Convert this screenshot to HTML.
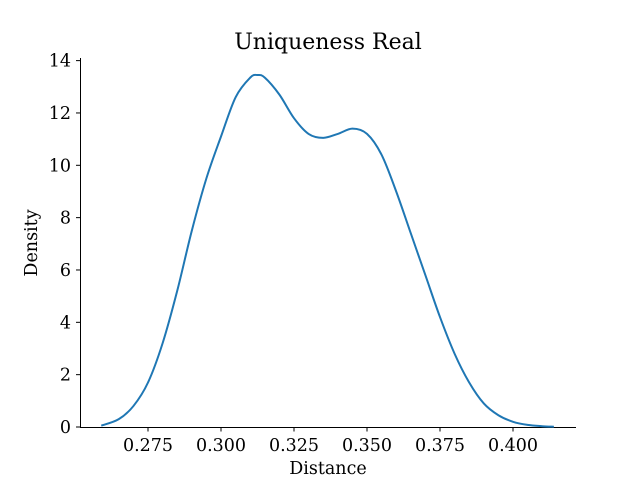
<!DOCTYPE html>
<html><head><meta charset="utf-8"><style>
body{margin:0;background:#fff}
svg text{font-family:"DejaVu Serif","Liberation Serif",serif;fill:#000}
</style></head><body>
<svg width="640" height="480" id="c">
<text x="328" y="49" text-anchor="middle" font-size="22">Uniqueness Real</text>
<text x="328" y="474" text-anchor="middle" font-size="17.5">Distance</text>
<text transform="translate(37,243) rotate(-90)" text-anchor="middle" font-size="17.5">Density</text>
<line x1="80" y1="427.5" x2="576" y2="427.5" stroke="#000" stroke-width="1"/>
<line x1="80.5" y1="58" x2="80.5" y2="427.5" stroke="#000" stroke-width="1"/>
<g id="ticks"></g>
<path id="kde" fill="none" stroke="#1f77b4" stroke-width="2"/>
</svg>
<script>
const xTicks=[0.275,0.300,0.325,0.350,0.375,0.400];
const xTickLabels=["0.275","0.300","0.325","0.350","0.375","0.400"];
const yTicks=[0,2,4,6,8,10,12,14];
const xs=[0.259,0.265,0.270,0.275,0.280,0.285,0.290,0.295,0.300,0.305,0.310,0.3125,0.315,0.320,0.325,0.330,0.335,0.340,0.345,0.350,0.355,0.360,0.365,0.370,0.375,0.380,0.385,0.390,0.395,0.400,0.405,0.410,0.414];
const ys=[0.05,0.3,0.8,1.7,3.2,5.2,7.5,9.5,11.1,12.6,13.35,13.45,13.35,12.7,11.8,11.2,11.05,11.2,11.4,11.2,10.4,9.0,7.4,5.8,4.2,2.8,1.7,0.9,0.45,0.2,0.08,0.03,0.01];
const X=v=>148+(v-0.275)*2920;
const Y=v=>427-v*26.17;
const NS="http://www.w3.org/2000/svg";
const g=document.getElementById('ticks');
xTicks.forEach((t,i)=>{
 const l=document.createElementNS(NS,'line');
 
 
 l.setAttribute('x1',X(t));l.setAttribute('x2',X(t));l.setAttribute('y1',427.5);l.setAttribute('y2',431.5);l.setAttribute('stroke','#000');
 g.appendChild(l);
 const tx=document.createElementNS(NS,'text');
 
 
 tx.setAttribute('x',X(t));tx.setAttribute('y',451);tx.setAttribute('text-anchor','middle');tx.setAttribute('font-size','17.5');
 tx.textContent=xTickLabels[i];g.appendChild(tx);
});
yTicks.forEach(t=>{
 const l=document.createElementNS(NS,'line');
 
 
 l.setAttribute('x1',76);l.setAttribute('x2',80.5);l.setAttribute('y1',Y(t));l.setAttribute('y2',Y(t));l.setAttribute('stroke','#000');
 g.appendChild(l);
 const tx=document.createElementNS(NS,'text');
 
 
 tx.setAttribute('x',71);tx.setAttribute('y',Y(t)+6);tx.setAttribute('text-anchor','end');tx.setAttribute('font-size','17.5');
 tx.textContent=String(t);g.appendChild(tx);
});
const P=xs.map((x,i)=>[X(x),Y(ys[i])]);
let d='M'+P[0][0]+','+P[0][1];
for(let i=0;i<P.length-1;i++){
 const p0=P[Math.max(i-1,0)],p1=P[i],p2=P[i+1],p3=P[Math.min(i+2,P.length-1)];
 const c1=[p1[0]+(p2[0]-p0[0])/6,p1[1]+(p2[1]-p0[1])/6];
 const c2=[p2[0]-(p3[0]-p1[0])/6,p2[1]-(p3[1]-p1[1])/6];
 d+=` C${c1[0]},${c1[1]} ${c2[0]},${c2[1]} ${p2[0]},${p2[1]}`;
}
document.getElementById('kde').setAttribute('d',d);
</script>
</body></html>
